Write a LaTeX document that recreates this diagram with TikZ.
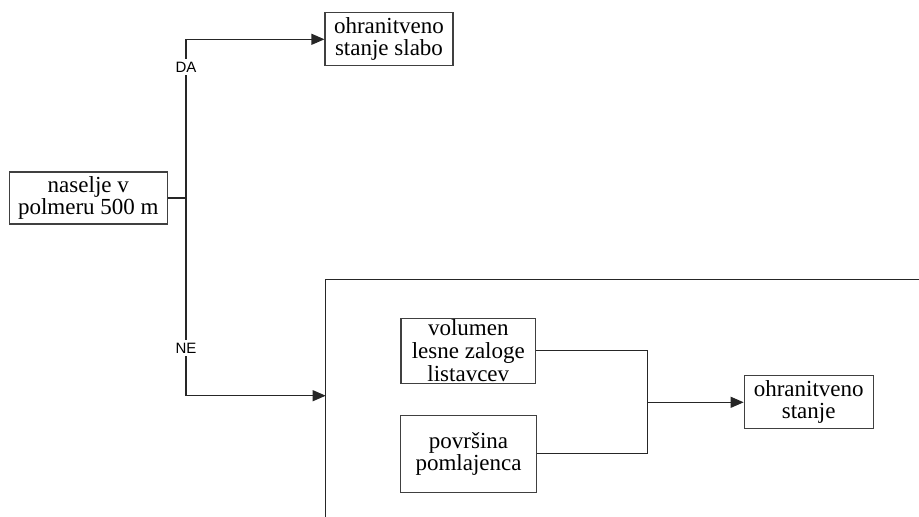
\documentclass[tikz,border=0pt]{standalone}
\usepackage{fontspec}
\setmainfont{Liberation Serif}
\newfontfamily\labfont{Liberation Sans}
\usetikzlibrary{arrows.meta}
\tikzset{
  boxnode/.style={draw=black!75, line width=1.1pt, inner sep=0pt, align=center,
    font=\fontsize{23}{22}\selectfont},
  conn/.style={draw=black!85, line width=1.1pt},
  arr/.style={conn, -{Triangle[length=13pt,width=11pt]}},
  yesno/.style={fill=white, inner xsep=1pt, inner ysep=2.5pt, font=\labfont\fontsize{15}{16}\selectfont}
}
\begin{document}
\begin{tikzpicture}[x=1pt,y=-1pt]
\useasboundingbox (0,0) rectangle (919,517);
% nodes
\node[boxnode, minimum width=158pt, minimum height=52pt] (nas) at (88.3,198) {naselje v\\polmeru 500 m};
\node[boxnode, minimum width=128pt, minimum height=53pt] (slabo) at (389,39) {ohranitveno\\stanje slabo};
\node[boxnode, minimum width=134.7pt, minimum height=65pt, inner ysep=-2pt,
      font=\fontsize{23}{23}\selectfont] (vol) at (468.3,350.8) {volumen\\lesne zaloge\\listavcev};
\node[boxnode, minimum width=136.4pt, minimum height=77.3pt] (pov) at (468.5,453.7) {površina\\pomlajenca};
\node[boxnode, minimum width=129pt, minimum height=53pt] (stanje) at (808.7,402.3) {ohranitveno\\stanje};
% frame
\coordinate (frTL) at (325.7,279.3);
\coordinate (frBL) at (325.7,517);
\coordinate (frTR) at (919,279.3);
\draw[conn] (frBL) -- (frTL) -- (frTR);
% branch
\coordinate (split) at (186,198);
\coordinate (topc) at (186,39.3);
\coordinate (botc) at (186,395.7);
\coordinate (frIn) at (325.7,395.7);
\draw[conn] (nas.east |- split) -- (split);
\draw[conn] (topc) -- (botc);
\draw[arr] (topc) -- (slabo.west |- topc);
\draw[arr] (botc) -- (frIn);
\node[yesno] (da) at (186,67) {DA};
\node[yesno] (ne) at (186,348) {NE};
% merge
\coordinate (mTop) at (647.5,350.7);
\coordinate (mBot) at (647.5,453.3);
\coordinate (mMid) at (647.5,402.3);
\draw[conn] (vol.east |- mTop) -- (mTop) -- (mBot) -- (pov.east |- mBot);
\draw[arr] (mMid) -- (stanje.west);
\end{tikzpicture}
\end{document}
